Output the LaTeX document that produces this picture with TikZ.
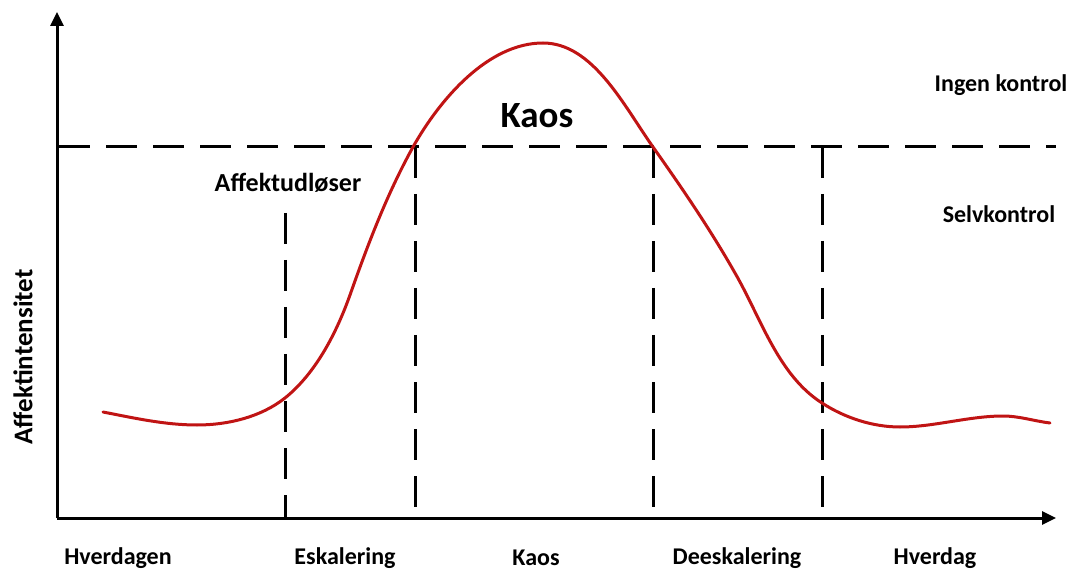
\documentclass[tikz,border=0pt]{standalone}
\usepackage{fontspec}
\setmainfont{Carlito}
\usetikzlibrary{arrows.meta}
\definecolor{curvered}{RGB}{192,20,20}
\begin{document}
\begin{tikzpicture}[x=1pt,y=-1pt,
  axis/.style={line width=3pt,-{Triangle[length=14pt,width=13pt]}},
  dashline/.style={line width=3pt,dash pattern=on 31pt off 16pt},
  lbl/.style={font=\bfseries\fontsize{24}{28}\selectfont,inner sep=0pt},
  big/.style={font=\bfseries\fontsize{37}{42}\selectfont,inner sep=0pt}]
\useasboundingbox (0,0) rectangle (1080,572);
\coordinate (o) at (57,518);
\coordinate (ytop) at (57,12);
\coordinate (xend) at (1056,518);
\draw[axis] (o) -- (ytop);
\draw[axis] (o) -- (xend);
\coordinate (hl) at (59,147);
\coordinate (hr) at (1056,147);
\draw[dashline] (hl) -- (hr);
\coordinate (v1t) at (285,213); \coordinate (v1b) at (285,517);
\coordinate (v2t) at (415,147); \coordinate (v2b) at (415,517);
\coordinate (v3t) at (653,147); \coordinate (v3b) at (653,517);
\coordinate (v4t) at (822,147); \coordinate (v4b) at (822,517);
\draw[dashline] (v1t) -- (v1b);
\draw[dashline] (v2t) -- (v2b);
\draw[dashline] (v3t) -- (v3b);
\draw[dashline] (v4t) -- (v4b);
\coordinate (p0) at (103,412);
\coordinate (p1) at (197,425);
\coordinate (p2) at (285,398);
\coordinate (p3) at (350,295);
\coordinate (p4) at (413,147);
\coordinate (p5) at (543,43);
\coordinate (p6) at (653,147);
\coordinate (p7) at (735,273);
\coordinate (p8) at (822,403);
\coordinate (p9) at (900,427);
\coordinate (p10) at (1003,416);
\coordinate (p11) at (1050,423);
\draw[curvered,line width=3pt,line cap=round,line join=round]
  (p0) .. controls (134,418) and (165,425) .. (p1)
       .. controls (228,425) and (261,417) .. (p2)
       .. controls (316,373) and (336.5,332.7) .. (p3)
       .. controls (368,244) and (387,194) .. (p4)
       .. controls (440,99) and (488,43) .. (p5)
       .. controls (593,43) and (624,106) .. (p6)
       .. controls (682,188) and (710,229) .. (p7)
       .. controls (761,318) and (778,375) .. (p8)
       .. controls (845,418) and (873,427) .. (p9)
       .. controls (934,427) and (969,416) .. (p10)
       .. controls (1019,416) and (1034,421) .. (p11);
\node[big] (kaosbig) at (537,116) {Kaos};
\node[lbl,font=\bfseries\fontsize{26}{30}\selectfont] (trig) at (288,183) {Affektudløser};
\node[lbl] (ingen) at (1001,85) {Ingen kontrol};
\node[lbl] (selv) at (999,214) {Selvkontrol};
\node[lbl,rotate=90,font=\bfseries\fontsize{27}{30}\selectfont] (yl) at (23,357) {Affektintensitet};
\node[lbl] (b1) at (118,558) {Hverdagen};
\node[lbl] (b2) at (345,558) {Eskalering};
\node[lbl] (b3) at (536,558) {Kaos};
\node[lbl] (b4) at (737,558) {Deeskalering};
\node[lbl] (b5) at (935,558) {Hverdag};
\end{tikzpicture}
\end{document}
